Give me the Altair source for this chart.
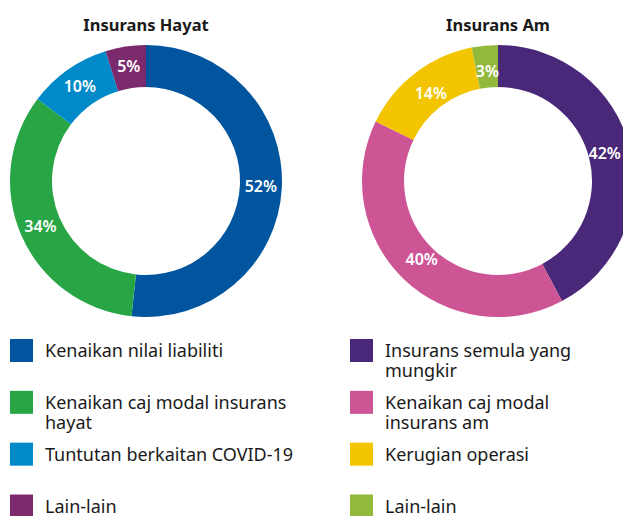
import altair as alt
import pandas as pd

FONT = "Noto Sans"
INK = "#1a1a1a"

# ---- Insurans Hayat (left donut) ----
hayat_title = "Insurans Hayat"
hayat_cats = ["Kenaikan nilai liabiliti", "Kenaikan caj modal insurans hayat",
              "Tuntutan berkaitan COVID-19", "Lain-lain (hayat)"]
hayat_vals = [51.7, 33.6, 9.9, 4.8]
hayat_labels = ["52%", "34%", "10%", "5%"]
hayat_legend = ["Kenaikan nilai liabiliti", "Kenaikan caj modal insurans\nhayat",
                "Tuntutan berkaitan COVID-19", "Lain-lain"]
hayat_colors = ["#00559e", "#28a646", "#008ac9", "#7b2a6e"]

# ---- Insurans Am (right donut) ----
am_title = "Insurans Am"
am_cats = ["Insurans semula yang mungkir", "Kenaikan caj modal insurans am",
           "Kerugian operasi", "Lain-lain (am)"]
am_vals = [42.2, 40.0, 14.7, 3.1]
am_labels = ["42%", "40%", "14%", "3%"]
am_legend = ["Insurans semula yang\nmungkir", "Kenaikan caj modal\ninsurans am",
             "Kerugian operasi", "Lain-lain"]
am_colors = ["#4a2879", "#cd5596", "#f2c500", "#93b93c"]

keys = hayat_cats + am_cats
color_scale = alt.Scale(domain=keys, range=hayat_colors + am_colors)

# layout constants (pixels, chart coordinates)
CY = 173
INNER, OUTER = 94, 136


def donut_layers(title, cats, vals, labels, cx, label_r):
    df = pd.DataFrame({"key": cats, "value": vals, "label": labels,
                       "idx": list(range(len(cats)))})
    base = alt.Chart(df).encode(
        theta=alt.Theta("value:Q", stack=True),
        order=alt.Order("idx:Q"),
        x=alt.value(cx),
        y=alt.value(CY),
    )
    arc = base.mark_arc(innerRadius=INNER, outerRadius=OUTER).encode(
        color=alt.Color("key:N", scale=color_scale, legend=None)
    )
    text = base.mark_text(radius=label_r, font=FONT, fontSize=16, fontWeight=600,
                          color="white").encode(text="label:N", detail="key:N")
    ttl = alt.Chart(pd.DataFrame({"t": [title]})).mark_text(
        font=FONT, fontSize=16.5, fontWeight="bold", color=INK,
        align="center", baseline="alphabetic",
    ).encode(text="t:N", x=alt.value(cx), y=alt.value(23))
    return [arc, text, ttl]


leg_df = pd.DataFrame({
    "key": keys,
    "text": hayat_legend + am_legend,
    "col": [0] * 4 + [1] * 4,
    "row": list(range(4)) * 2,
})
lbase = alt.Chart(leg_df).encode(
    x=alt.X("col:Q", scale=alt.Scale(domain=[0, 1], range=[13.5, 353.5]), axis=None),
    y=alt.Y("row:Q", scale=alt.Scale(domain=[0, 3], range=[342.5, 498]), axis=None),
)
swatch = lbase.mark_square(size=529, opacity=1).encode(
    color=alt.Color("key:N", scale=color_scale, legend=None)
)
ltext = lbase.mark_text(align="left", baseline="alphabetic", dx=23.5, dy=6.5,
                        lineBreak="\n", lineHeight=20, font=FONT, fontSize=18,
                        color=INK).encode(text="text:N")

layers = (donut_layers(hayat_title, hayat_cats, hayat_vals, hayat_labels, 138, 115)
          + donut_layers(am_title, am_cats, am_vals, am_labels, 490, 110)
          + [swatch, ltext])

chart = alt.layer(*layers).properties(
    width=615, height=508, padding=0,
    autosize=alt.AutoSizeParams(type="none"),
).configure_view(stroke=None)

chart.save("out.html", embed_options={"renderer": "svg", "actions": False})
